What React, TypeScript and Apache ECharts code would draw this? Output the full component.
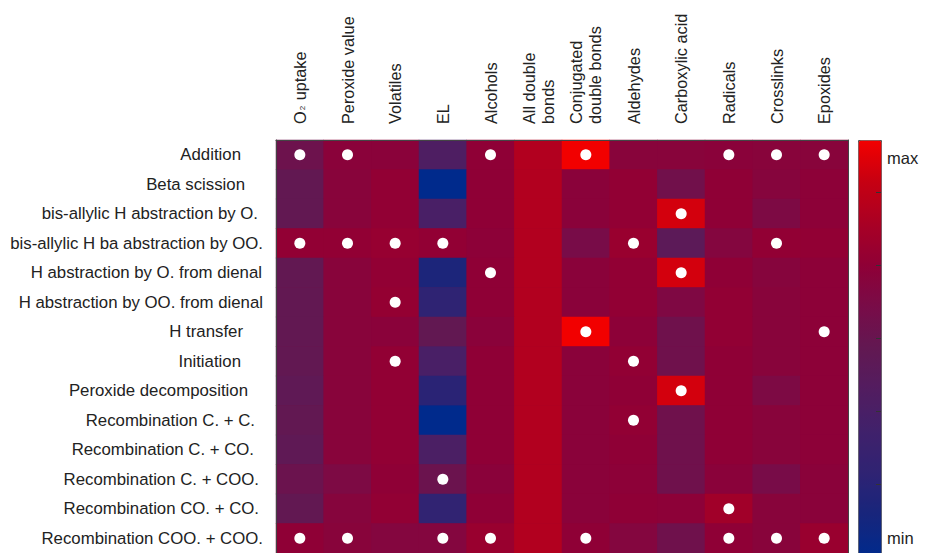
import React, { useEffect, useRef } from "react";
import * as echarts from "echarts";

const columns = [
  "O2 uptake",
  "Peroxide value",
  "Volatiles",
  "EL",
  "Alcohols",
  "All double\nbonds",
  "Conjugated\ndouble bonds",
  "Aldehydes",
  "Carboxylic acid",
  "Radicals",
  "Crosslinks",
  "Epoxides",
];

const reactions = [
  "Addition",
  "Beta scission",
  "bis-allylic H abstraction by O.",
  "bis-allylic H ba abstraction by OO.",
  "H abstraction by O. from dienal",
  "H abstraction by OO. from dienal",
  "H transfer",
  "Initiation",
  "Peroxide decomposition",
  "Recombination C. + C.",
  "Recombination C. + CO.",
  "Recombination C. + COO.",
  "Recombination CO. + CO.",
  "Recombination COO. + COO.",
];

// normalized sensitivity (0 = min, 1 = max), one row per reaction
const values = [
  [0.55, 0.68, 0.68, 0.38, 0.70, 0.83, 1.00, 0.67, 0.67, 0.68, 0.67, 0.67],
  [0.50, 0.67, 0.71, 0.00, 0.70, 0.83, 0.68, 0.71, 0.57, 0.70, 0.66, 0.69],
  [0.50, 0.67, 0.71, 0.35, 0.70, 0.83, 0.68, 0.71, 0.93, 0.70, 0.62, 0.69],
  [0.71, 0.71, 0.73, 0.71, 0.69, 0.83, 0.60, 0.74, 0.46, 0.65, 0.71, 0.71],
  [0.50, 0.67, 0.71, 0.12, 0.70, 0.83, 0.68, 0.71, 0.93, 0.70, 0.66, 0.69],
  [0.50, 0.67, 0.72, 0.20, 0.70, 0.83, 0.68, 0.71, 0.63, 0.71, 0.67, 0.69],
  [0.50, 0.67, 0.68, 0.50, 0.68, 0.83, 1.00, 0.69, 0.56, 0.71, 0.67, 0.69],
  [0.50, 0.67, 0.71, 0.35, 0.70, 0.83, 0.68, 0.71, 0.56, 0.70, 0.67, 0.69],
  [0.48, 0.67, 0.71, 0.18, 0.70, 0.83, 0.68, 0.70, 0.93, 0.70, 0.62, 0.69],
  [0.50, 0.67, 0.71, 0.00, 0.70, 0.83, 0.68, 0.71, 0.56, 0.70, 0.67, 0.69],
  [0.48, 0.67, 0.71, 0.36, 0.70, 0.83, 0.68, 0.70, 0.56, 0.70, 0.67, 0.69],
  [0.54, 0.62, 0.70, 0.54, 0.68, 0.83, 0.68, 0.69, 0.56, 0.68, 0.60, 0.68],
  [0.50, 0.66, 0.71, 0.21, 0.70, 0.83, 0.68, 0.70, 0.69, 0.77, 0.67, 0.68],
  [0.70, 0.67, 0.65, 0.65, 0.74, 0.83, 0.70, 0.65, 0.56, 0.70, 0.67, 0.74],
];

// white dot markers (1 = marked)
const markers = [
  [1, 1, 0, 0, 1, 0, 1, 0, 0, 1, 1, 1],
  [0, 0, 0, 0, 0, 0, 0, 0, 0, 0, 0, 0],
  [0, 0, 0, 0, 0, 0, 0, 0, 1, 0, 0, 0],
  [1, 1, 1, 1, 0, 0, 0, 1, 0, 0, 1, 0],
  [0, 0, 0, 0, 1, 0, 0, 0, 1, 0, 0, 0],
  [0, 0, 1, 0, 0, 0, 0, 0, 0, 0, 0, 0],
  [0, 0, 0, 0, 0, 0, 1, 0, 0, 0, 0, 1],
  [0, 0, 1, 0, 0, 0, 0, 1, 0, 0, 0, 0],
  [0, 0, 0, 0, 0, 0, 0, 0, 1, 0, 0, 0],
  [0, 0, 0, 0, 0, 0, 0, 1, 0, 0, 0, 0],
  [0, 0, 0, 0, 0, 0, 0, 0, 0, 0, 0, 0],
  [0, 0, 0, 1, 0, 0, 0, 0, 0, 0, 0, 0],
  [0, 0, 0, 0, 0, 0, 0, 0, 0, 1, 0, 0],
  [1, 1, 0, 1, 1, 0, 1, 0, 0, 1, 1, 1],
];

const colorbarLabels = ["max", "min"];
const colorbarTickFractions = [0.125, 0.3, 0.476, 0.651, 0.827];

// styling
const colormap = [
  "#002a8c", "#17257c", "#2f2373", "#40216b", "#521d60", "#621852",
  "#780c48", "#8f0036", "#a90024", "#c60012", "#f20000",
];
const rowLabelPad = [22, 18, 5, 0, 1, 0, 20, 22, 15, 8, 9, 4, 4, 0];
const FONT = "'Liberation Sans', Arial, Helvetica, sans-serif";
const TEXT = "#222";
const FRAME = "#444";
const ROW_FS = 16.8;
const COL_FS = 16.3;

export default function App() {
  const ref = useRef<HTMLDivElement>(null);

  useEffect(() => {
    document.body.style.margin = "0";
    if (!ref.current) return;
    const chart = echarts.init(ref.current, undefined, { renderer: "svg" });

    const heatData: number[][] = [];
    const dotData: number[][] = [];
    values.forEach((row, r) =>
      row.forEach((v, c) => {
        heatData.push([c, r, v]);
        if (markers[r][c]) dotData.push([c, r]);
      })
    );

    const rich: Record<string, any> = {};
    rowLabelPad.forEach((p, i) => {
      rich["p" + i] = {
        fontSize: ROW_FS,
        fontFamily: FONT,
        color: TEXT,
        padding: [0, p, 0, 0],
      };
    });

    const cbLeft = 858;
    const cbTop = 140;
    const cbW = 23;
    const cbH = 416;

    chart.setOption({
      animation: false,
      backgroundColor: "#fff",
      textStyle: { fontFamily: FONT },
      grid: {
        left: 276,
        right: 80,
        top: 140,
        bottom: -3,
        show: true,
        backgroundColor: "#86043c",
        borderWidth: 0,
      },
      xAxis: {
        type: "category",
        data: columns,
        position: "top",
        z: 5,
        axisLine: { show: true, lineStyle: { color: FRAME, width: 1 } },
        axisTick: { show: false },
        splitLine: { show: false },
        axisLabel: {
          rotate: -90,
          interval: 0,
          margin: 16,
          fontSize: COL_FS,
          lineHeight: 19,
          color: TEXT,
          fontFamily: FONT,
          formatter: (v: string) =>
            v === "O2 uptake" ? "{n|O}{s|2}{n| uptake}" : v,
          rich: {
            n: { fontSize: COL_FS, fontFamily: FONT, color: TEXT },
            s: { fontSize: 8, fontFamily: FONT, color: TEXT, padding: [6, 1, 0, 1] },
          },
        },
      },
      yAxis: [
        {
          type: "category",
          data: reactions,
          inverse: true,
          z: 5,
          axisLine: { show: true, lineStyle: { color: FRAME, width: 1 } },
          axisTick: { show: false },
          splitLine: { show: false },
          axisLabel: {
            interval: 0,
            margin: 13,
            fontSize: ROW_FS,
            color: TEXT,
            fontFamily: FONT,
            formatter: (v: string, i: number) => `{p${i}|${v}}`,
            rich,
          },
        },
        {
          type: "category",
          data: reactions,
          inverse: true,
          position: "right",
          z: 5,
          axisLine: { show: true, lineStyle: { color: FRAME, width: 1 } },
          axisTick: { show: false },
          axisLabel: { show: false },
          splitLine: { show: false },
        },
      ],
      visualMap: {
        type: "continuous",
        min: 0,
        max: 1,
        seriesIndex: 0,
        orient: "vertical",
        left: cbLeft,
        top: cbTop,
        itemWidth: cbW,
        itemHeight: cbH,
        calculable: false,
        hoverLink: false,
        padding: 0,
        borderColor: "#555",
        borderWidth: 1,
        text: undefined,
        inRange: { color: colormap },
      },
      graphic: [
        {
          type: "text",
          left: 887,
          top: 149,
          style: { text: colorbarLabels[0], fontSize: 16.5, fill: TEXT, fontFamily: FONT },
        },
        {
          type: "text",
          left: 887,
          top: 529,
          style: { text: colorbarLabels[1], fontSize: 16.5, fill: TEXT, fontFamily: FONT },
        },
        ...colorbarTickFractions.map((f) => ({
          type: "line",
          shape: {
            x1: cbLeft + cbW - 5,
            y1: Math.round(cbTop + f * cbH) + 0.5,
            x2: cbLeft + cbW,
            y2: Math.round(cbTop + f * cbH) + 0.5,
          },
          style: { stroke: "#333", lineWidth: 1 },
          z: 100,
        })),
      ],
      series: [
        {
          type: "heatmap",
          data: heatData,
          itemStyle: { borderWidth: 0 },
          emphasis: { disabled: true },
        },
        {
          type: "scatter",
          data: dotData,
          symbol: "circle",
          symbolSize: 11,
          itemStyle: { color: "#fff", opacity: 1 },
          z: 4,
          silent: true,
        },
      ],
    });

    return () => chart.dispose();
  }, []);

  return <div ref={ref} style={{ width: 928, height: 553 }} />;
}
